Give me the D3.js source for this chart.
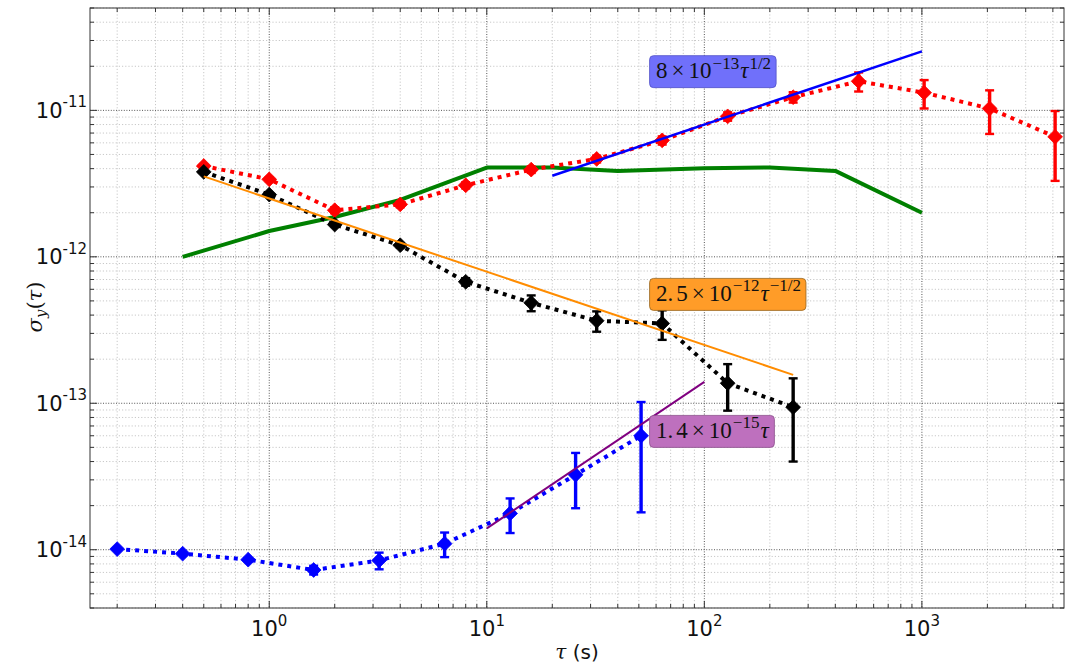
<!DOCTYPE html>
<html><head><meta charset="utf-8">
<script src="https://cdn.jsdelivr.net/npm/d3@7"></script>
<style>body{margin:0;background:#fff}</style>
</head><body>
<svg id="chart" width="1065" height="666"></svg>
<script>
// ---------- data ----------
const redTau = [0.5,1,2,4,8,16,32,64,128,256,512,1024,2048,4096];
const redVal = [4.17e-12,3.38e-12,2.08e-12,2.28e-12,3.08e-12,3.94e-12,4.66e-12,6.24e-12,9.1e-12,1.23e-11,1.58e-11,1.32e-11,1.03e-11,6.6e-12];
const redErr = [0.1e-12,0.1e-12,0.1e-12,0.1e-12,0.15e-12,0.2e-12,0.25e-12,0.4e-12,0.6e-12,1.0e-12,2.35e-12,2.9e-12,3.4e-12,3.3e-12];

const blackTau = [0.5,1,2,4,8,16,32,64,128,256];
const blackVal = [3.8e-12,2.66e-12,1.66e-12,1.2e-12,6.75e-13,4.85e-13,3.66e-13,3.51e-13,1.37e-13,9.4e-14];
const blackErr = [0.05e-12,0.05e-12,0.04e-12,0.04e-12,0.4e-13,0.6e-13,0.58e-13,0.8e-13,0.48e-13,5.4e-14];

const blueTau = [0.2,0.4,0.8,1.6,3.2,6.4,12.8,25.6,51.2];
const blueVal = [1.01e-14,9.4e-15,8.55e-15,7.27e-15,8.45e-15,1.1e-14,1.77e-14,3.25e-14,6.0e-14];
const blueErr = [0.1e-15,0.1e-15,0.2e-15,0.5e-15,1.1e-15,2.1e-15,4.7e-15,1.33e-14,4.2e-14];

const greenTau = [0.4,1,2,4,10,20,40,100,200,400,1000];
const greenVal = [1.0e-12,1.5e-12,1.87e-12,2.45e-12,4.07e-12,4.07e-12,3.86e-12,4.03e-12,4.07e-12,3.86e-12,2.0e-12];

const fitBlueTau = [20,1000];   const fitBlueVal = [3.58e-12,2.53e-11];
const fitOrangeTau = [0.5,256]; const fitOrangeVal = [3.54e-12,1.5625e-13];
const fitPurpleTau = [10,100];  const fitPurpleVal = [1.4e-14,1.4e-13];

const xTicks = [1,10,100,1000];        const xTickExp = ["0","1","2","3"];
const yTicks = [1e-14,1e-13,1e-12,1e-11]; const yTickExp = ["-14","-13","-12","-11"];

const annTau = [60,60,60];
const annVal = [1.66e-11,5.0e-13,5.8e-14];
const annParts = [
  [["8"],["×"],["10"],["−13","sup"],["τ","it"],["1/2","sup"]],
  [["2."],["5","gap"],["×"],["10"],["−12","sup"],["τ","it"],["−1/2","sup"]],
  [["1."],["4","gap"],["×"],["10"],["−15","sup"],["τ","it"]]
];
const annFill = ["rgb(112,112,250)","rgb(255,156,40)","rgb(190,112,190)"];
const annStroke = ["rgb(80,80,200)","rgb(150,100,30)","rgb(140,80,140)"];

// ---------- layout ----------
const L=90,T=8,R=1064,B=608;
const x = d3.scaleLog().domain([0.15,4500]).range([L,R]);
const y = d3.scaleLog().domain([4e-15,5e-11]).range([B,T]);
const svg = d3.select('#chart');
svg.append('rect').attr('width',1065).attr('height',666).attr('fill','#fff');
svg.append('defs').append('clipPath').attr('id','clip')
  .append('rect').attr('x',L).attr('y',T).attr('width',R-L).attr('height',B-T);

const isMajor = v => Math.abs(Math.log10(v)-Math.round(Math.log10(v)))<1e-6;
const xAll = x.ticks().filter(v=>v>=0.15&&v<=4500);
const yAll = y.ticks().filter(v=>v>=4e-15&&v<=5e-11);
const xMin = xAll.filter(v=>!isMajor(v)), xMaj = xAll.filter(isMajor);
const yMin = yAll.filter(v=>!isMajor(v)), yMaj = yAll.filter(isMajor);

// grid
const grid = svg.append('g');
grid.selectAll(null).data(xMin).join('line')
  .attr('x1',d=>x(d)).attr('x2',d=>x(d)).attr('y1',T).attr('y2',B)
  .attr('stroke','#c8c8c8').attr('stroke-width',1).attr('stroke-dasharray','1.2,2');
grid.selectAll(null).data(yMin).join('line')
  .attr('y1',d=>y(d)).attr('y2',d=>y(d)).attr('x1',L).attr('x2',R)
  .attr('stroke','#c8c8c8').attr('stroke-width',1).attr('stroke-dasharray','1.2,2');
grid.selectAll(null).data(xMaj).join('line')
  .attr('x1',d=>x(d)).attr('x2',d=>x(d)).attr('y1',T).attr('y2',B)
  .attr('stroke','#555').attr('stroke-width',1).attr('stroke-dasharray','1,1.6');
grid.selectAll(null).data(yMaj).join('line')
  .attr('y1',d=>y(d)).attr('y2',d=>y(d)).attr('x1',L).attr('x2',R)
  .attr('stroke','#555').attr('stroke-width',1).attr('stroke-dasharray','1,1.6');

const plot = svg.append('g').attr('clip-path','url(#clip)');
const line = d3.line().x(d=>x(d[0])).y(d=>y(d[1]));

// green curve
plot.append('path').datum(greenTau.map((t,i)=>[t,greenVal[i]]))
  .attr('d',line).attr('fill','none').attr('stroke','#008000').attr('stroke-width',4)
  .attr('stroke-linejoin','round');

function series(tau,val,err,color){
  const g = plot.append('g');
  const pts = tau.map((t,i)=>[t,val[i],err[i]]);
  g.append('path').datum(pts).attr('d',line).attr('fill','none').attr('stroke',color)
    .attr('stroke-width',4).attr('stroke-dasharray','4,5');
  g.selectAll(null).data(pts).join('line')
    .attr('x1',d=>x(d[0])).attr('x2',d=>x(d[0]))
    .attr('y1',d=>y(d[1]+d[2])).attr('y2',d=>y(Math.max(d[1]-d[2],1e-16)))
    .attr('stroke',color).attr('stroke-width',3.4);
  ['+','-'].forEach(s=>{
    g.selectAll(null).data(pts).join('line')
      .attr('x1',d=>x(d[0])-4.5).attr('x2',d=>x(d[0])+4.5)
      .attr('y1',d=>y(s==='+'?d[1]+d[2]:d[1]-d[2])).attr('y2',d=>y(s==='+'?d[1]+d[2]:d[1]-d[2]))
      .attr('stroke',color).attr('stroke-width',2.4);
  });
  const r=7.4;
  g.selectAll(null).data(pts).join('path')
    .attr('d',`M0,${-r}L${r},0L0,${r}L${-r},0Z`)
    .attr('transform',d=>`translate(${x(d[0])},${y(d[1])})`)
    .attr('fill',color).attr('stroke',color).attr('stroke-width',0.8);
}
series(redTau,redVal,redErr,'#ff0000');
series(blackTau,blackVal,blackErr,'#000000');
series(blueTau,blueVal,blueErr,'#0000ff');

// fit lines
function fit(tau,val,color,w){
  plot.append('path').datum(tau.map((t,i)=>[t,val[i]])).attr('d',line)
    .attr('fill','none').attr('stroke',color).attr('stroke-width',w);
}
fit(fitBlueTau,fitBlueVal,'#0000ff',2.5);
fit(fitOrangeTau,fitOrangeVal,'#ff8c00',2.0);
fit(fitPurpleTau,fitPurpleVal,'#800080',2.0);

// frame & ticks
const ax = svg.append('g').attr('stroke','#333').attr('stroke-width',1);
ax.append('rect').attr('x',L).attr('y',T).attr('width',R-L).attr('height',B-T).attr('fill','none');
function xt(vals,len){
  ax.selectAll(null).data(vals).join('line').attr('x1',d=>x(d)).attr('x2',d=>x(d)).attr('y1',B).attr('y2',B-len);
  ax.selectAll(null).data(vals).join('line').attr('x1',d=>x(d)).attr('x2',d=>x(d)).attr('y1',T).attr('y2',T+len);
}
function yt(vals,len){
  ax.selectAll(null).data(vals).join('line').attr('y1',d=>y(d)).attr('y2',d=>y(d)).attr('x1',L).attr('x2',L+len);
  ax.selectAll(null).data(vals).join('line').attr('y1',d=>y(d)).attr('y2',d=>y(d)).attr('x1',R).attr('x2',R-len);
}
xt(xMaj,7); xt(xMin,4); yt(yMaj,7); yt(yMin,4);

// tick labels
const tickFont = "'DejaVu Sans', sans-serif";
xTicks.forEach((t,i)=>{
  const tx = svg.append('text').attr('x',x(t)).attr('y',636).attr('text-anchor','middle')
    .attr('font-family',tickFont).attr('font-size',21).attr('fill','#111');
  tx.append('tspan').text('10');
  tx.append('tspan').attr('dy',-10.5).attr('font-size',15).text(xTickExp[i]);
});
yTicks.forEach((t,i)=>{
  const tx = svg.append('text').attr('x',87).attr('y',y(t)+7.5).attr('text-anchor','end')
    .attr('font-family',tickFont).attr('font-size',21).attr('fill','#111');
  tx.append('tspan').text('10');
  tx.append('tspan').attr('dy',-10.5).attr('font-size',15).text(yTickExp[i]);
});

// axis labels
const xl = svg.append('text').attr('x',577).attr('y',659).attr('text-anchor','middle')
  .attr('font-size',20).attr('fill','#111');
xl.append('tspan').attr('font-family',"'DejaVu Serif', serif").attr('font-style','italic').text('τ');
xl.append('tspan').attr('font-family',tickFont).text(' (s)');

const yl = svg.append('text').attr('transform','translate(42,307) rotate(-90)').attr('text-anchor','middle')
  .attr('font-family',"'DejaVu Serif', serif").attr('font-size',21).attr('fill','#111');
yl.append('tspan').attr('font-style','italic').text('σ');
yl.append('tspan').attr('font-style','italic').attr('font-size',15).attr('dy',4).text('y');
yl.append('tspan').attr('dy',-4).text('(');
yl.append('tspan').attr('font-style','italic').text('τ');
yl.append('tspan').text(')');

// annotations
const mathFont = "'Liberation Serif', serif";
annParts.forEach((parts,k)=>{
  const g = svg.append('g');
  const bx = x(annTau[k]), by = y(annVal[k]);
  const rect = g.append('rect');
  const tx = g.append('text').attr('x',bx).attr('y',by).attr('font-family',mathFont)
    .attr('font-size',23).attr('fill','#111');
  let raised=false;
  parts.forEach(([s,f])=>{
    const ts = tx.append('tspan').text(s);
    if(f==='sup'){ ts.attr('font-size',17).attr('dx',1); if(!raised){ ts.attr('dy',-9.5); raised=true; } }
    else { if(raised){ ts.attr('dy',9.5); raised=false; } }
    if(f==='it') ts.attr('font-style','italic').attr('dx',1);
    if(f==='gap') ts.attr('dx',3);
    if(s==='×' || s==='10') ts.attr('dx',4);
  });
  const bb = tx.node().getBBox();
  rect.attr('x',bx-6.5).attr('y',by-22.5).attr('width',bb.x+bb.width-bx+11.5).attr('height',32)
    .attr('rx',4).attr('fill',annFill[k]).attr('stroke',annStroke[k]).attr('stroke-width',0.8);
});
</script>
</body></html>
